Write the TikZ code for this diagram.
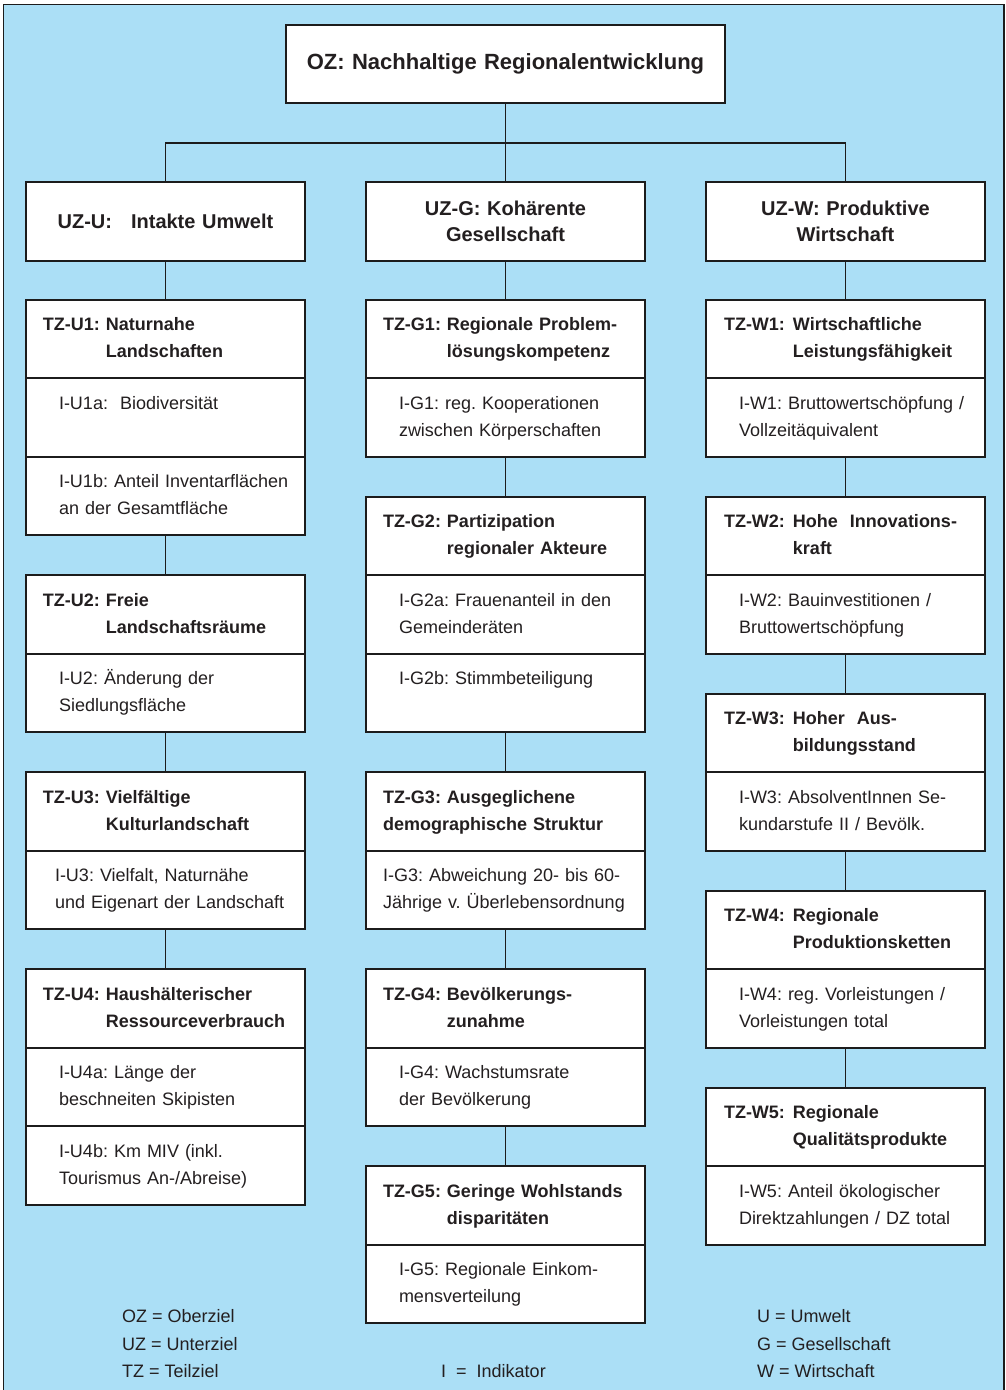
\documentclass[tikz,border=0pt]{standalone}
\usepackage{fontspec}
\setmainfont{Liberation Sans}
\usetikzlibrary{positioning}

\definecolor{bgblue}{RGB}{171,223,246}
\definecolor{ink}{RGB}{35,31,32}
\definecolor{rulecol}{RGB}{28,28,28}

% title with hanging second line
\newcommand{\tzlab}[4][\ ]{\begin{tabular}{@{}l@{#1}l@{}}#2&#3\\&#4\end{tabular}}
% two-line indicator text
\newcommand{\indline}[2]{\strut#1\\\strut#2}

\tikzset{
  box/.style={draw=rulecol, line width=1.8pt, fill=white, inner sep=0pt, outer sep=0pt,
    minimum width=279pt, minimum height=78.5pt, text width=279pt, align=left, text=ink,
    font=\fontsize{18}{27}\selectfont\frenchspacing},
  tzbox/.style={box, font=\fontsize{18}{27}\selectfont\frenchspacing\bfseries},
  indbox/.style={box},
  goalbox/.style={box, align=center, font=\fontsize{20}{26}\selectfont\frenchspacing\bfseries},
  lskip/.style={execute at begin node={\leftskip=#1pt}},
  link/.style={draw=rulecol, line width=1.8pt},
  legend/.style={anchor=west, text=ink, inner sep=0pt, font=\fontsize{18}{27}\selectfont}
}

\begin{document}
\begin{tikzpicture}[x=1pt, y=-1pt]
\useasboundingbox (0,0) rectangle (1006,1390);
\fill[bgblue] (3.5,4.5) rectangle (1004,1396);
\draw[rulecol, line width=1.5pt] (3.5,1396) -- (3.5,4.5) -- (1004,4.5) -- (1004,1396);

% top goal
\node[goalbox, minimum width=439pt, text width=439pt, minimum height=78pt,
  font=\fontsize{22}{27}\selectfont\frenchspacing\bfseries] (oz) at (505.5,64) {OZ: Nachhaltige Regionalentwicklung};
\coordinate (fork) at (505.5,143);

% Umwelt
\node[goalbox] (uzU) at (165.5,221.5) {UZ-U:\hspace{0.95em}Intakte Umwelt};
\node[tzbox, lskip=17, below=39pt of uzU] (tzU1) {\tzlab{TZ-U1:}{Naturnahe}{Landschaften}};
\node[indbox, lskip=33, below=0pt of tzU1] (iU1a) {\indline{I-U1a:\ \ Biodiversität}{}};
\node[indbox, lskip=33, below=0pt of iU1a] (iU1b) {\indline{I-U1b: Anteil Inventarflächen}{an der Gesamtfläche}};
\node[tzbox, lskip=17, below=40pt of iU1b] (tzU2) {\tzlab{TZ-U2:}{Freie}{Landschaftsräume}};
\node[indbox, lskip=33, below=0pt of tzU2] (iU2) {\indline{I-U2: Änderung der}{Siedlungsfläche}};
\node[tzbox, lskip=17, below=40pt of iU2] (tzU3) {\tzlab{TZ-U3:}{Vielfältige}{Kulturlandschaft}};
\node[indbox, lskip=29, below=0pt of tzU3] (iU3) {\indline{I-U3: Vielfalt, Naturnähe}{und Eigenart der Landschaft}};
\node[tzbox, lskip=17, below=40pt of iU3] (tzU4) {\tzlab{TZ-U4:}{Haushälterischer}{Ressourceverbrauch}};
\node[indbox, lskip=33, below=0pt of tzU4] (iU4a) {\indline{I-U4a: Länge der}{beschneiten Skipisten}};
\node[indbox, lskip=33, below=0pt of iU4a] (iU4b) {\indline{I-U4b: Km MIV (inkl.}{Tourismus An-/Abreise)}};

% Gesellschaft
\node[goalbox] (uzG) at (505.5,221.5) {UZ-G: Kohärente\\Gesellschaft};
\node[tzbox, lskip=17, below=39pt of uzG] (tzG1) {\tzlab{TZ-G1:}{Regionale Problem-}{lösungskompetenz}};
\node[indbox, lskip=33, below=0pt of tzG1] (iG1) {\indline{I-G1: reg. Kooperationen}{zwischen Körperschaften}};
\node[tzbox, lskip=17, below=40pt of iG1] (tzG2) {\tzlab{TZ-G2:}{Partizipation}{regionaler Akteure}};
\node[indbox, lskip=33, below=0pt of tzG2] (iG2a) {\indline{I-G2a: Frauenanteil in den}{Gemeinderäten}};
\node[indbox, lskip=33, below=0pt of iG2a] (iG2b) {\indline{I-G2b: Stimmbeteiligung}{}};
\node[tzbox, lskip=17, below=40pt of iG2b] (tzG3) {\indline{TZ-G3: Ausgeglichene}{demographische Struktur}};
\node[indbox, lskip=17, below=0pt of tzG3] (iG3) {\indline{I-G3: Abweichung 20- bis 60-}{Jährige v. Überlebensordnung}};
\node[tzbox, lskip=17, below=40pt of iG3] (tzG4) {\tzlab{TZ-G4:}{Bevölkerungs-}{zunahme}};
\node[indbox, lskip=33, below=0pt of tzG4] (iG4) {\indline{I-G4: Wachstumsrate}{der Bevölkerung}};
\node[tzbox, lskip=17, below=40pt of iG4] (tzG5) {\tzlab{TZ-G5:}{Geringe Wohlstands}{disparitäten}};
\node[indbox, lskip=33, below=0pt of tzG5] (iG5) {\indline{I-G5: Regionale Einkom-}{mensverteilung}};

% Wirtschaft
\node[goalbox] (uzW) at (845.5,221.5) {UZ-W: Produktive\\Wirtschaft};
\node[tzbox, lskip=18, below=39pt of uzW] (tzW1) {\tzlab[\hspace{8pt}]{TZ-W1:}{Wirtschaftliche}{Leistungsfähigkeit}};
\node[indbox, lskip=33, below=0pt of tzW1] (iW1) {\indline{I-W1: Bruttowertschöpfung /}{Vollzeitäquivalent}};
\node[tzbox, lskip=18, below=40pt of iW1] (tzW2) {\tzlab[\hspace{8pt}]{TZ-W2:}{Hohe\ \ Innovations-}{kraft}};
\node[indbox, lskip=33, below=0pt of tzW2] (iW2) {\indline{I-W2: Bauinvestitionen /}{Bruttowertschöpfung}};
\node[tzbox, lskip=18, below=40pt of iW2] (tzW3) {\tzlab[\hspace{8pt}]{TZ-W3:}{Hoher\ \ Aus-}{bildungsstand}};
\node[indbox, lskip=33, below=0pt of tzW3] (iW3) {\indline{I-W3: AbsolventInnen Se-}{kundarstufe II / Bevölk.}};
\node[tzbox, lskip=18, below=40pt of iW3] (tzW4) {\tzlab[\hspace{8pt}]{TZ-W4:}{Regionale}{Produktionsketten}};
\node[indbox, lskip=33, below=0pt of tzW4] (iW4) {\indline{I-W4: reg. Vorleistungen /}{Vorleistungen total}};
\node[tzbox, lskip=18, below=40pt of iW4] (tzW5) {\tzlab[\hspace{8pt}]{TZ-W5:}{Regionale}{Qualitätsprodukte}};
\node[indbox, lskip=33, below=0pt of tzW5] (iW5) {\indline{I-W5: Anteil ökologischer}{Direktzahlungen / DZ total}};

% connectors
\draw[link] (oz) -- (fork);
\draw[link] (uzU) |- (fork) -| (uzW);
\draw[link] (fork) -- (uzG);
\foreach \a/\b in {uzU/tzU1, iU1b/tzU2, iU2/tzU3, iU3/tzU4,
                   uzG/tzG1, iG1/tzG2, iG2b/tzG3, iG3/tzG4, iG4/tzG5,
                   uzW/tzW1, iW1/tzW2, iW2/tzW3, iW3/tzW4, iW4/tzW5}
  \draw[link] (\a) -- (\b);

% legend
\node[legend] (lgOZ) at (122,1316) {OZ = Oberziel};
\node[legend] (lgUZ) at (122,1344) {UZ = Unterziel};
\node[legend] (lgTZ) at (122,1371) {TZ = Teilziel};
\node[legend] (lgI) at (441,1371) {I\ \ =\ \ Indikator};
\node[legend] (lgU) at (757,1316) {U = Umwelt};
\node[legend] (lgG) at (757,1344) {G = Gesellschaft};
\node[legend] (lgW) at (757,1371) {W = Wirtschaft};
\end{tikzpicture}
\end{document}
